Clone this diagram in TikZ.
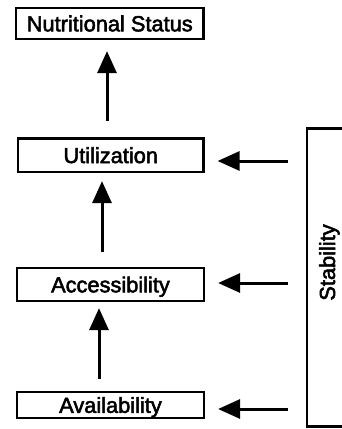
\documentclass[tikz,border=0pt]{standalone}
\usepackage{fontspec}
\setmainfont{Liberation Sans}[FakeBold=2.4]
\usetikzlibrary{arrows.meta}
\begin{document}
\begin{tikzpicture}[x=1pt,y=-1pt,
  box/.style={draw, line width=2.2pt, inner sep=0pt, text height=15.6pt, text depth=0pt,
    font=\fontsize{21.8}{24}\selectfont, minimum width=187pt},
  arr/.style={line width=3pt, -{Triangle[length=22pt,width=19pt]}},
  lbl/.style={font=\fontsize{21.8}{24}\selectfont}]
\useasboundingbox (0,0) rectangle (341,429);
\node[box, minimum width=187.5pt, minimum height=31pt] (nut) at (109.75,23.5) {Nutritional Status};
\node[box, minimum width=185.5pt, minimum height=33.5pt] (util) at (110.75,155.25) {Utilization};
\node[box, minimum height=33pt] (acc) at (110.5,284.5) {Accessibility};
\node[box, minimum height=26pt] (avail) at (110.5,405) {Availability};
\node[draw, line width=2.2pt, minimum width=40pt, minimum height=298pt, inner sep=0pt] (stab) at (327,277.5) {};
\node[lbl, rotate=90, anchor=base] (stablbl) at (335,262.5) {Stability};
% vertical arrows
\draw[arr, shorten <=16.5pt, shorten >=11pt] ([xshift=-3.75pt]util.north) -- ([xshift=-3.75pt]util.north |- nut.south);
\draw[arr, shorten <=15pt, shorten >=8pt] ([xshift=-8.5pt]acc.north) -- ([xshift=-8.5pt]acc.north |- util.south);
\draw[arr, shorten <=12pt, shorten >=6pt] ([xshift=-11.5pt]avail.north) -- ([xshift=-11.5pt]avail.north |- acc.south);
% horizontal arrows
\draw[arr, shorten <=18pt, shorten >=13pt] ([yshift=-5.75pt]stab.west |- util.east) -- ([yshift=-5.75pt]util.east);
\draw[arr, shorten <=18pt, shorten >=13pt] ([yshift=1.5pt]stab.west |- acc.east) -- ([yshift=1.5pt]acc.east);
\draw[arr, shorten <=18pt, shorten >=13pt] ([yshift=-4pt]stab.west |- avail.east) -- ([yshift=-4pt]avail.east);
\end{tikzpicture}
\end{document}
